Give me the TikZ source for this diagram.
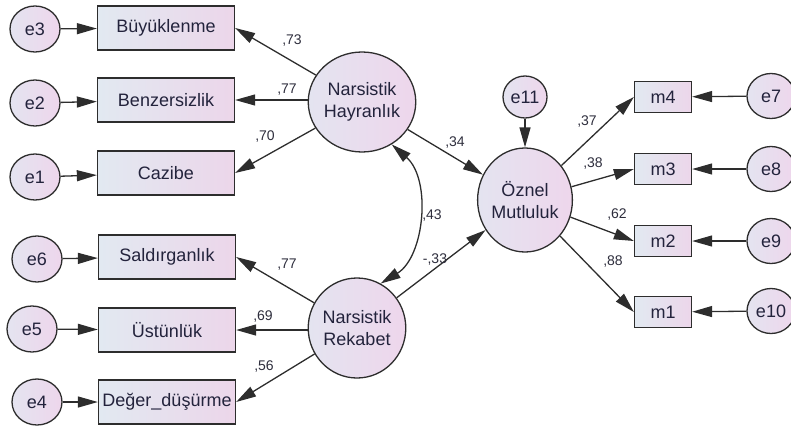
\documentclass[tikz,border=0pt]{standalone}
\usepackage{fontspec}
\setmainfont{Liberation Sans}
\usetikzlibrary{arrows.meta,shapes.geometric}
\definecolor{lc}{RGB}{45,45,45}
\definecolor{txt}{RGB}{35,35,60}
\definecolor{numc}{RGB}{45,45,60}
\definecolor{gL}{RGB}{226,233,241}
\definecolor{gR}{RGB}{236,214,234}
\definecolor{cL}{RGB}{228,228,240}
\definecolor{cR}{RGB}{238,214,236}
\begin{document}
\begin{tikzpicture}[x=1pt,y=1pt,
  every node/.style={text=txt,font=\fontsize{18}{22}\selectfont},
  obs/.style={draw=lc,line width=1.3pt,rectangle,left color=gL,right color=gR,
    minimum width=137pt,minimum height=44pt,inner sep=0pt},
  mobs/.style={obs,minimum width=57pt,minimum height=31pt},
  err/.style={draw=lc,line width=1.3pt,ellipse,left color=cL,right color=cR,
    minimum width=50pt,minimum height=46pt,inner sep=0pt},
  lat/.style={draw=lc,line width=1.3pt,ellipse,left color=cL,right color=cR,
    minimum width=90pt,minimum height=100pt,inner sep=0pt,align=center},
  arr/.style={draw=lc,line width=1.3pt,-{Triangle[length=20pt,width=11pt]}},
  lab/.style={text=numc,font=\fontsize{14}{16}\selectfont,inner sep=0pt}
]
\useasboundingbox (0,0) rectangle (791,432);
% left error terms
\node[err] (e3) at (35,403) {e3};
\node[err] (e2) at (35,329) {e2};
\node[err] (e1) at (35,255) {e1};
\node[err] (e6) at (37,173) {e6};
\node[err] (e5) at (32,103) {e5};
\node[err] (e4) at (37,30) {e4};
% left indicators
\node[obs] (b3) at (166,404) {Büyüklenme};
\node[obs] (b2) at (166,332) {Benzersizlik};
\node[obs] (b1) at (166,259) {Cazibe};
\node[obs] (b6) at (167,175) {Saldırganlık};
\node[obs] (b5) at (167,102) {Üstünlük};
\node[obs] (b4) at (167,30) {Değer\_düşürme};
% latent variables
\node[lat] (H) at (362,330) {Narsistik\\Hayranlık};
\node[lat] (R) at (357,104) {Narsistik\\Rekabet};
\node[lat,minimum width=86pt,minimum height=104pt] (O) at (525,232) {Öznel\\Mutluluk};
\node[err,minimum width=44pt,minimum height=42pt] (e11) at (525,335) {e11};
% right indicators
\node[mobs] (m4) at (663,335) {m4};
\node[mobs] (m3) at (663,263) {m3};
\node[mobs] (m2) at (663,191) {m2};
\node[mobs] (m1) at (663,120) {m1};
\node[err,minimum width=48pt,minimum height=45pt] (e7) at (771,336) {e7};
\node[err,minimum width=48pt,minimum height=45pt] (e8) at (771,263) {e8};
\node[err,minimum width=48pt,minimum height=45pt] (e9) at (771,191) {e9};
\node[err,minimum width=48pt,minimum height=45pt] (e10) at (771,121) {e10};
% error arrows
\draw[arr] (e3) -- (b3);
\draw[arr] (e2) -- (b2);
\draw[arr] (e1) -- (b1);
\draw[arr] (e6) -- (b6);
\draw[arr] (e5) -- (b5);
\draw[arr] (e4) -- (b4);
\draw[arr] (e7) -- (m4);
\draw[arr] (e8) -- (m3);
\draw[arr] (e9) -- (m2);
\draw[arr] (e10) -- (m1);
\draw[arr] (e11) -- (O);
% loadings
\draw[arr] (H) -- (b3.east);
\draw[arr] (H.west |- b2.east) -- (b2.east);
\draw[arr] (H) -- (b1.east);
\draw[arr] (R) -- (b6.east);
\draw[arr] (R.west |- b5.east) -- (b5.east);
\draw[arr] (R) -- (b4.east);
\draw[arr] (O) -- (m4.west);
\draw[arr] (O) -- (m3.west);
\draw[arr] (O) -- (m2.west);
\draw[arr] (O) -- (m1.west);
% structural paths
\draw[arr] (H) -- (O);
\draw[arr] (R) -- (O);
% covariance
\draw[draw=lc,line width=1.3pt,{Triangle[length=20pt,width=11pt]}-{Triangle[length=20pt,width=11pt]}]
  (H.-55) .. controls +(40,-35) and +(44,27) .. (R.62);
% labels
\node[lab] (l1) at (292,391) {,73};
\node[lab] (l2) at (287,342) {,77};
\node[lab] (l3) at (265,295) {,70};
\node[lab] (l4) at (287,167) {,77};
\node[lab] (l5) at (263,115) {,69};
\node[lab] (l6) at (264,65) {,56};
\node[lab] (l7) at (455,289) {,34};
\node[lab] (l8) at (432,216) {,43};
\node[lab] (l9) at (435,172) {-,33};
\node[lab] (l10) at (587,310) {,37};
\node[lab] (l11) at (593,268) {,38};
\node[lab] (l12) at (617,217) {,62};
\node[lab] (l13) at (613,170) {,88};
\end{tikzpicture}
\end{document}
